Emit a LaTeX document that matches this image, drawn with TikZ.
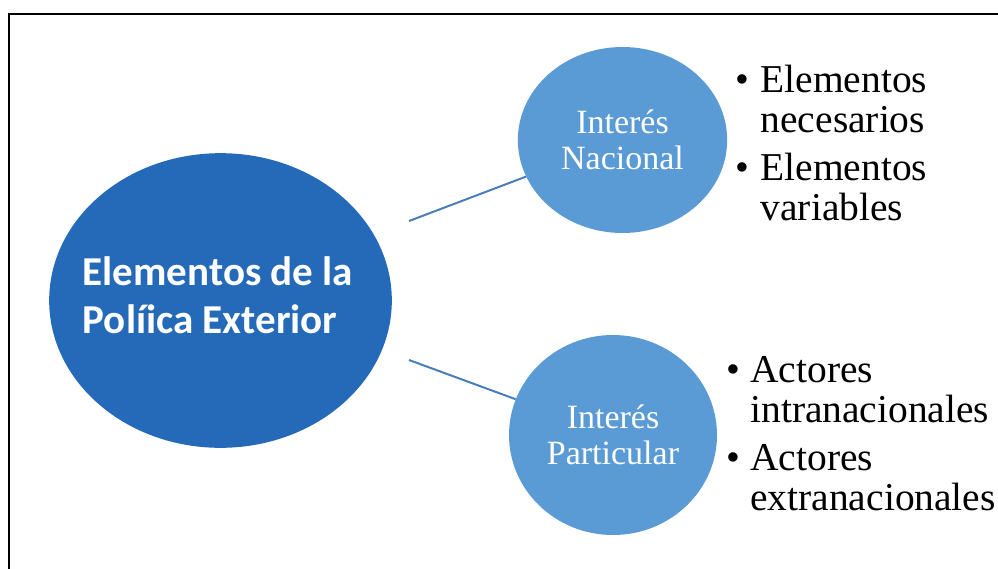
\documentclass[tikz,border=0pt]{standalone}
\usepackage{fontspec}
\setmainfont{Liberation Serif}
\newfontfamily\calfont{Carlito}
\usetikzlibrary{shapes.geometric}

\definecolor{darkblue}{RGB}{37,106,185}
\definecolor{lightblue}{RGB}{91,155,213}
\definecolor{lineblue}{RGB}{74,126,187}

\begin{document}
\begin{tikzpicture}[x=0.75pt,y=-0.75pt,
	bigcirc/.style={ellipse,fill=darkblue,inner sep=0pt,minimum width=257pt,minimum height=221pt},
	bigtext/.style={text=white,inner sep=0pt,align=left,font=\calfont\bfseries\fontsize{30.8}{36}\selectfont},
	smallcirc/.style={ellipse,fill=lightblue,text=white,inner sep=0pt,align=center,font=\fontsize{25.5}{27}\selectfont},
	items/.style={anchor=base west,inner sep=0pt,font=\fontsize{29.6}{30.4}\selectfont},
	link/.style={draw=lineblue,line width=1.5pt}]

\clip (0,0) rectangle (998,568);
\draw[line width=1.5pt] (9,14) rectangle (1010,580); %frame

%main ellipse
\node[bigcirc] (pe) at (220.5,300.5) {};
\node[bigtext] (pet) at (218,295) {Elementos de la\\Políica Exterior};

%the two circles
\node[smallcirc,minimum width=157pt,minimum height=139.5pt] (ni) at (622.5,140) {Interés\\Nacional};
\node[smallcirc,minimum width=156pt,minimum height=150pt] (pi) at (613,435) {Interés\\Particular};

\coordinate (ni-in) at (409,221);
\coordinate (pi-in) at (409,360);
\foreach \c/\n in {ni-in/ni,pi-in/pi}
{	\draw[link] (\c) -- (\n);
}

%lists
\node[items] (nil) at (735,92) {\begin{tabular}[t]{@{}l@{\hspace{8.7pt}}l@{}}
\textbullet & Elementos\\ & necesarios\\[5.25pt]
\textbullet & Elementos\\ & variables
\end{tabular}};
\node[items] (pil) at (726,382) {\begin{tabular}[t]{@{}l@{\hspace{7.7pt}}l@{}}
\textbullet & Actores\\ & intranacionales\\[5.25pt]
\textbullet & Actores\\ & extranacionales
\end{tabular}};
\end{tikzpicture}
\end{document}
